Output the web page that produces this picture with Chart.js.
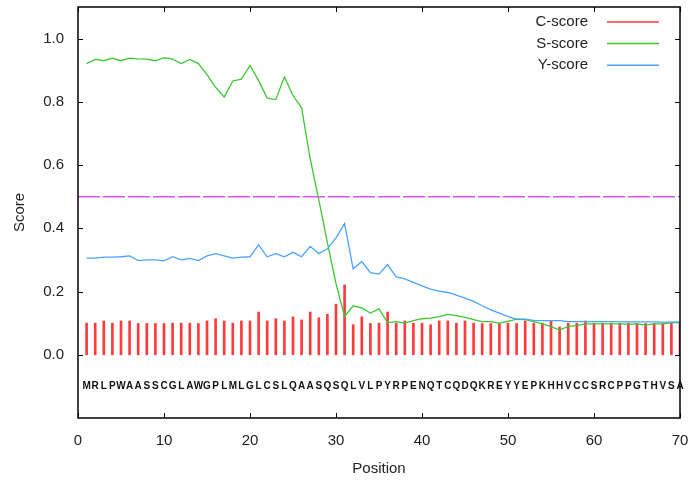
<!DOCTYPE html>
<html lang="en">
<head>
    <meta charset="UTF-8">
    <title>SignalP scores</title>
    <style>
        html, body { margin: 0; padding: 0; background: #fff; }
        #wrap { width: 691px; height: 482px; }
    </style>
    <script src="https://cdn.jsdelivr.net/npm/chart.js@4.4.0/dist/chart.umd.min.js"></script>
</head>
<body>
    <div id="wrap"><canvas id="chart" width="691" height="482"></canvas></div>

    <script>
        // sequence letters, one per position 1..70
        const residues = 'MRLPWAASSCGLAWGPLMLGLCSLQAASQSQLVLPYRPENQTCQDQKREYYEPKHHVCCSRCPPGTHVSA'.split('');
        const positions = residues.map((r, i) => i + 1);

        const cScore = [
            0.10, 0.10, 0.107, 0.10, 0.107, 0.107, 0.099, 0.099, 0.099, 0.099,
            0.10, 0.10, 0.10, 0.099, 0.107, 0.114, 0.107, 0.10, 0.107, 0.107,
            0.135, 0.107, 0.114, 0.107, 0.12, 0.11, 0.135, 0.117, 0.128, 0.16,
            0.221, 0.095, 0.12, 0.099, 0.10, 0.135, 0.10, 0.107, 0.10, 0.10,
            0.095, 0.107, 0.107, 0.10, 0.107, 0.10, 0.099, 0.099, 0.099, 0.10,
            0.099, 0.107, 0.10, 0.10, 0.107, 0.088, 0.10, 0.10, 0.107, 0.10,
            0.10, 0.10, 0.099, 0.10, 0.099, 0.099, 0.099, 0.099, 0.099, 0.10
        ];
        const sScore = [
            0.921, 0.934, 0.930, 0.938, 0.930, 0.938, 0.936, 0.935, 0.930, 0.940,
            0.935, 0.921, 0.934, 0.921, 0.886, 0.846, 0.815, 0.866, 0.872, 0.915,
            0.867, 0.812, 0.807, 0.879, 0.820, 0.781, 0.620, 0.490, 0.355, 0.225,
            0.121, 0.155, 0.148, 0.132, 0.145, 0.102, 0.105, 0.100, 0.108, 0.114,
            0.116, 0.121, 0.128, 0.124, 0.118, 0.111, 0.105, 0.105, 0.100, 0.106,
            0.113, 0.111, 0.105, 0.098, 0.089, 0.078, 0.090, 0.092, 0.098, 0.098,
            0.098, 0.098, 0.098, 0.096, 0.098, 0.094, 0.098, 0.098, 0.102, 0.102
        ];
        const yScore = [
            0.306, 0.306, 0.309, 0.309, 0.310, 0.313, 0.298, 0.300, 0.300, 0.297,
            0.310, 0.300, 0.305, 0.298, 0.313, 0.320, 0.313, 0.306, 0.309, 0.310,
            0.348, 0.310, 0.320, 0.310, 0.324, 0.310, 0.343, 0.320, 0.335, 0.370,
            0.415, 0.271, 0.295, 0.260, 0.255, 0.285, 0.246, 0.240, 0.229, 0.218,
            0.208, 0.201, 0.197, 0.189, 0.179, 0.169, 0.155, 0.142, 0.132, 0.121,
            0.113, 0.113, 0.109, 0.108, 0.108, 0.108, 0.105, 0.105, 0.105, 0.105,
            0.105, 0.105, 0.104, 0.104, 0.104, 0.104, 0.104, 0.103, 0.103, 0.103
        ];
        const threshold = 0.5;
        const xTicks = [0, 10, 20, 30, 40, 50, 60, 70];
        const yTicks = [0, 0.2, 0.4, 0.6, 0.8, 1.0];

        const FONT = 'Liberation Sans, Arial, sans-serif';

        // scale label overflow would push the plot area in; the frame is fixed instead
        function fixBox(size) {
            return s => {
                if (s.isHorizontal()) s.height = size; else s.width = size;
                s.paddingTop = 0; s.paddingBottom = 0; s.paddingLeft = 0; s.paddingRight = 0;
            };
        }

        // frame, inward ticks, sequence letters and legend
        const decorations = {
            id: 'decorations',
            afterDraw(chart) {
                const ctx = chart.ctx;
                const a = chart.chartArea;
                const xs = chart.scales.x, ys = chart.scales.y;
                ctx.save();
                ctx.strokeStyle = '#000';
                ctx.lineWidth = 1.5;
                ctx.strokeRect(a.left, a.top, a.right - a.left, a.bottom - a.top);

                ctx.lineWidth = 1;
                xTicks.forEach(v => {
                    const px = Math.round(xs.getPixelForValue(v)) + 0.5;
                    ctx.beginPath();
                    ctx.moveTo(px, a.bottom); ctx.lineTo(px, a.bottom - 5);
                    ctx.moveTo(px, a.top); ctx.lineTo(px, a.top + 5);
                    ctx.stroke();
                });
                yTicks.forEach(v => {
                    const py = Math.round(ys.getPixelForValue(v)) + 0.5;
                    ctx.beginPath();
                    ctx.moveTo(a.left, py); ctx.lineTo(a.left + 5, py);
                    ctx.moveTo(a.right, py); ctx.lineTo(a.right - 5, py);
                    ctx.stroke();
                });

                // residues under the bars
                ctx.fillStyle = '#111';
                ctx.font = 'bold 10px ' + FONT;
                ctx.textAlign = 'center';
                ctx.textBaseline = 'middle';
                const ly = ys.getPixelForValue(-0.1);
                residues.forEach((r, i) => {
                    ctx.fillText(r, xs.getPixelForValue(positions[i]), ly);
                });

                // legend: label then line sample
                ctx.font = '15px ' + FONT;
                ctx.textAlign = 'right';
                chart.data.datasets.slice(0, 3).forEach((ds, i) => {
                    const y = a.top + 15 + i * 21.6;
                    ctx.fillStyle = '#222';
                    ctx.fillText(ds.label, a.right - 92, y);
                    ctx.strokeStyle = ds.borderColor;
                    ctx.lineWidth = 1.5;
                    ctx.beginPath();
                    ctx.moveTo(a.right - 73, y); ctx.lineTo(a.right - 21, y);
                    ctx.stroke();
                });
                ctx.restore();
            }
        };

        new Chart(document.getElementById('chart'), {
            type: 'bar',
            data: {
                datasets: [
                    {
                        type: 'bar',
                        label: 'C-score',
                        data: positions.map((p, i) => ({ x: p, y: cScore[i] })),
                        backgroundColor: '#ff3b3b',
                        borderColor: '#ff3b3b',
                        barThickness: 2,
                        order: 3
                    },
                    {
                        type: 'line',
                        label: 'S-score',
                        data: positions.map((p, i) => ({ x: p, y: sScore[i] })),
                        borderColor: '#3cc832',
                        borderWidth: 1.3,
                        pointRadius: 0,
                        tension: 0,
                        order: 2
                    },
                    {
                        type: 'line',
                        label: 'Y-score',
                        data: positions.map((p, i) => ({ x: p, y: yScore[i] })),
                        borderColor: '#4aa3ff',
                        borderWidth: 1.3,
                        pointRadius: 0,
                        tension: 0,
                        order: 1
                    },
                    {
                        type: 'line',
                        label: 'threshold',
                        data: [{ x: 0, y: threshold }, { x: 70, y: threshold }],
                        borderColor: '#d655f5',
                        borderWidth: 1.5,
                        borderDash: [22, 3],
                        pointRadius: 0,
                        order: 0
                    }
                ]
            },
            options: {
                responsive: false,
                animation: false,
                layout: { padding: { top: 7, right: 11, left: 0, bottom: 0 } },
                plugins: { legend: { display: false }, tooltip: { enabled: false } },
                scales: {
                    x: {
                        type: 'linear',
                        min: 0,
                        max: 70,
                        offset: false,
                        afterBuildTicks: s => { s.ticks = xTicks.map(v => ({ value: v })); },
                        afterFit: fixBox(64),
                        grid: { display: false, drawTicks: false },
                        border: { display: false },
                        ticks: { color: '#222', font: { family: FONT, size: 15 }, padding: 14 },
                        title: { display: true, text: 'Position', color: '#222', font: { family: FONT, size: 15 }, padding: { top: 8 } }
                    },
                    y: {
                        min: -0.2,
                        max: 1.1,
                        afterBuildTicks: s => { s.ticks = yTicks.map(v => ({ value: v })); },
                        afterFit: fixBox(78),
                        grid: { display: false, drawTicks: false },
                        border: { display: false },
                        ticks: { color: '#222', font: { family: FONT, size: 15 }, padding: 14, callback: v => v.toFixed(1) },
                        title: { display: true, text: 'Score', color: '#222', font: { family: FONT, size: 15 }, padding: { top: 11, bottom: 4 } }
                    }
                }
            },
            plugins: [decorations]
        });
    </script>
</body>
</html>
